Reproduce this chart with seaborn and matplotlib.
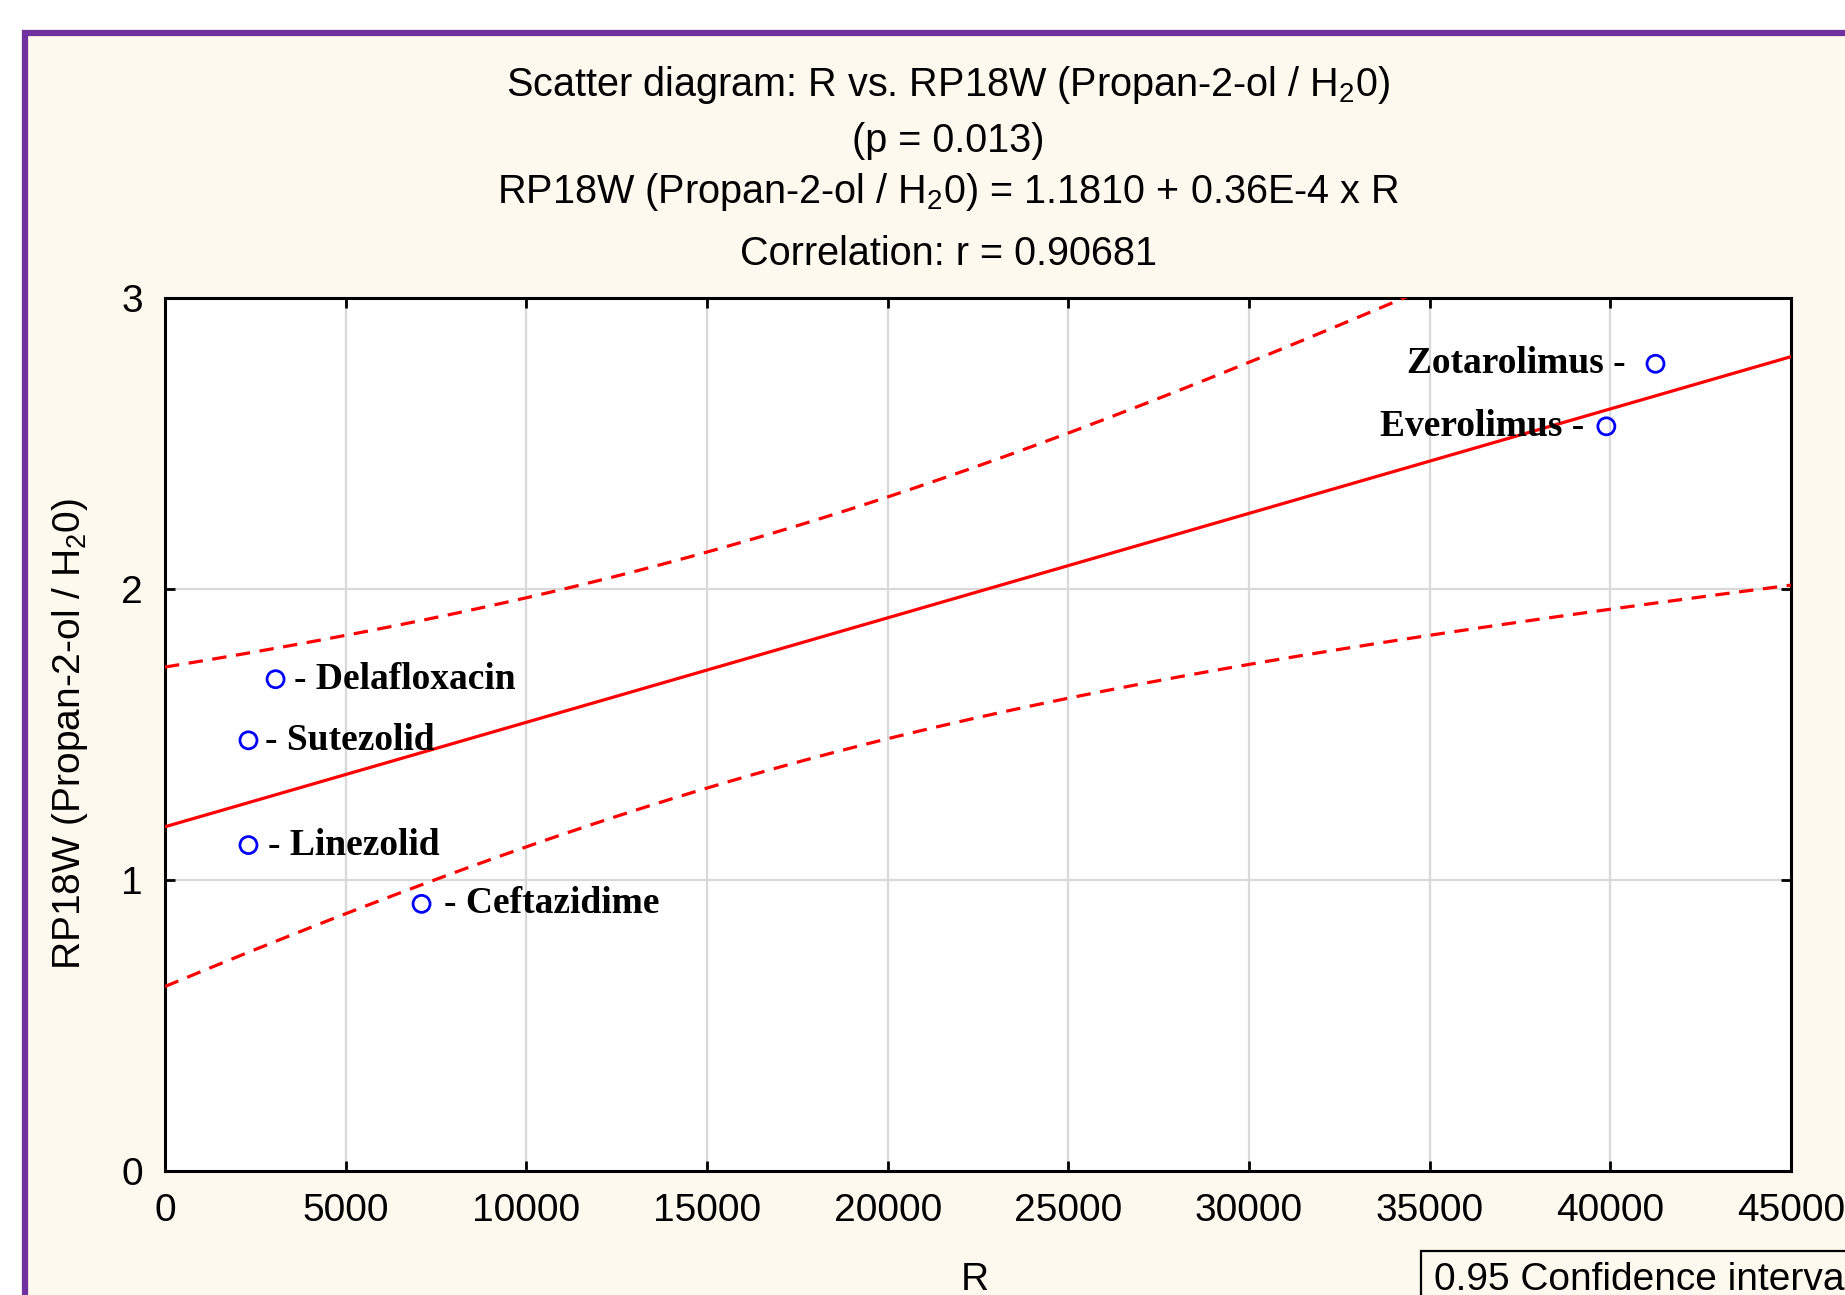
import numpy as np
import pandas as pd
import matplotlib
matplotlib.use("Agg")
import matplotlib.pyplot as plt
from matplotlib.patches import Rectangle
import seaborn as sns

# ---- data ----
compounds = ["Delafloxacin", "Sutezolid", "Linezolid", "Ceftazidime", "Zotarolimus", "Everolimus"]
r_values = [3060, 2310, 2310, 7100, 41250, 39890]
rp18w_values = [1.690, 1.480, 1.120, 0.918, 2.774, 2.559]
label_side = ["right", "right", "right", "right", "left", "left"]
label_offset_px = [18, 17, 20, 22, -30, -22]

x_ticks = [0, 5000, 10000, 15000, 20000, 25000, 30000, 35000, 40000, 45000]
y_ticks = [0, 1, 2, 3]

title_lines = [
    "Scatter diagram: R vs. RP18W (Propan-2-ol / H$_2$0)",
    "(p = 0.013)",
    "RP18W (Propan-2-ol / H$_2$0) = 1.1810 + 0.36E-4 x R",
    "Correlation: r = 0.90681",
]
x_label = "R"
y_label = "RP18W (Propan-2-ol / H$_2$0)"
legend_text = "0.95 Confidence interval"
T_CRIT = 2.776  # t(0.975, df=4)

# ---- regression and 95% confidence band computed from the data ----
x = np.array(r_values, dtype=float)
y = np.array(rp18w_values, dtype=float)
n = len(x)
slope, intercept = np.polyfit(x, y, 1)
resid = y - (intercept + slope * x)
s = np.sqrt(np.sum(resid ** 2) / (n - 2))
sxx = np.sum((x - x.mean()) ** 2)
xg = np.linspace(x_ticks[0], x_ticks[-1], 300)
yg = intercept + slope * xg
half = T_CRIT * s * np.sqrt(1.0 / n + (xg - x.mean()) ** 2 / sxx)
fit_df = pd.DataFrame({"R": xg, "fit": yg, "upper": yg + half, "lower": yg - half})
pts_df = pd.DataFrame({"R": x, "RP18W": y, "name": compounds})

# ---- styling ----
sns.set_theme(style="white")
plt.rcParams["font.family"] = ["Liberation Sans", "DejaVu Sans"]
plt.rcParams["mathtext.default"] = "regular"

W, H, DPI = 1845, 1295, 100
fig = plt.figure(figsize=(W / DPI, H / DPI), dpi=DPI, facecolor="white")

cream = "#FEF9EE"
purple = "#7030A0"
fig.patches.append(Rectangle((25 / W, -0.2), 1.5, 0.2 + (1 - 33 / H),
                             transform=fig.transFigure, facecolor=cream,
                             edgecolor=purple, linewidth=4.5, zorder=-10))

ax = fig.add_axes([165 / W, 1 - 1171 / H, (1791 - 165) / W, (1171 - 298) / H])
ax.set_zorder(2)
ax.set_facecolor("white")

ax.grid(True, color="#d9d9d9", linewidth=1.6, zorder=0)
ax.set_axisbelow(True)

sns.lineplot(data=fit_df, x="R", y="fit", ax=ax, color="red", linewidth=2.3, zorder=3)
sns.lineplot(data=fit_df, x="R", y="upper", ax=ax, color="red", linewidth=2.3, zorder=3)
sns.lineplot(data=fit_df, x="R", y="lower", ax=ax, color="red", linewidth=2.3, zorder=3)
for ln in ax.lines[1:3]:
    ln.set_linestyle((0, (4.5, 3)))

sns.scatterplot(data=pts_df, x="R", y="RP18W", ax=ax, s=150, marker="o",
                facecolor="none", edgecolor="#0000FF", linewidth=2.0, zorder=4)

for name, xv, yv, side, off in zip(compounds, r_values, rp18w_values, label_side, label_offset_px):
    txt = f"- {name}" if side == "right" else f"{name} -"
    ax.annotate(txt, (xv, yv), xytext=(off, 0), textcoords="offset pixels",
                ha="left" if side == "right" else "right", va="center",
                fontfamily=["Liberation Serif", "DejaVu Serif"], fontweight="bold",
                fontsize=27, color="black", zorder=5)

ax.set_xlim(x_ticks[0], x_ticks[-1])
ax.set_ylim(y_ticks[0], y_ticks[-1])
ax.set_xticks(x_ticks)
ax.set_yticks(y_ticks)
ax.set_xticklabels([str(t) for t in x_ticks])
ax.set_yticklabels([str(t) for t in y_ticks])
ax.tick_params(axis="both", which="both", direction="in", length=7, width=2,
               top=True, right=True, bottom=True, left=True,
               labelsize=28, colors="black", pad=16)
for sp in ax.spines.values():
    sp.set_color("black")
    sp.set_linewidth(2.2)

ax.set_xlabel(x_label, fontsize=28, color="black")
ax.set_ylabel(y_label, fontsize=28, color="black")
ax.xaxis.set_label_coords((975 - 165) / (1791 - 165), (1171 - 1262) / (1171 - 298))
ax.yaxis.set_label_coords((90 - 165) / (1791 - 165), 0.5)

title_y = [85, 141, 192, 254]
for line, yy in zip(title_lines, title_y):
    fig.text(948 / W, 1 - yy / H, line, ha="center", va="center",
             fontsize=28.5, color="black")

fig.patches.append(Rectangle((1421 / W, -0.1), 0.4, 0.1 + (1 - 1251 / H),
                             transform=fig.transFigure, facecolor="none",
                             edgecolor="black", linewidth=1.6, zorder=2))
fig.text(1434 / W, 1 - 1262 / H, legend_text, ha="left", va="top",
         fontsize=28, color="black")

fig.savefig("out.png", dpi=DPI, facecolor=fig.get_facecolor())
